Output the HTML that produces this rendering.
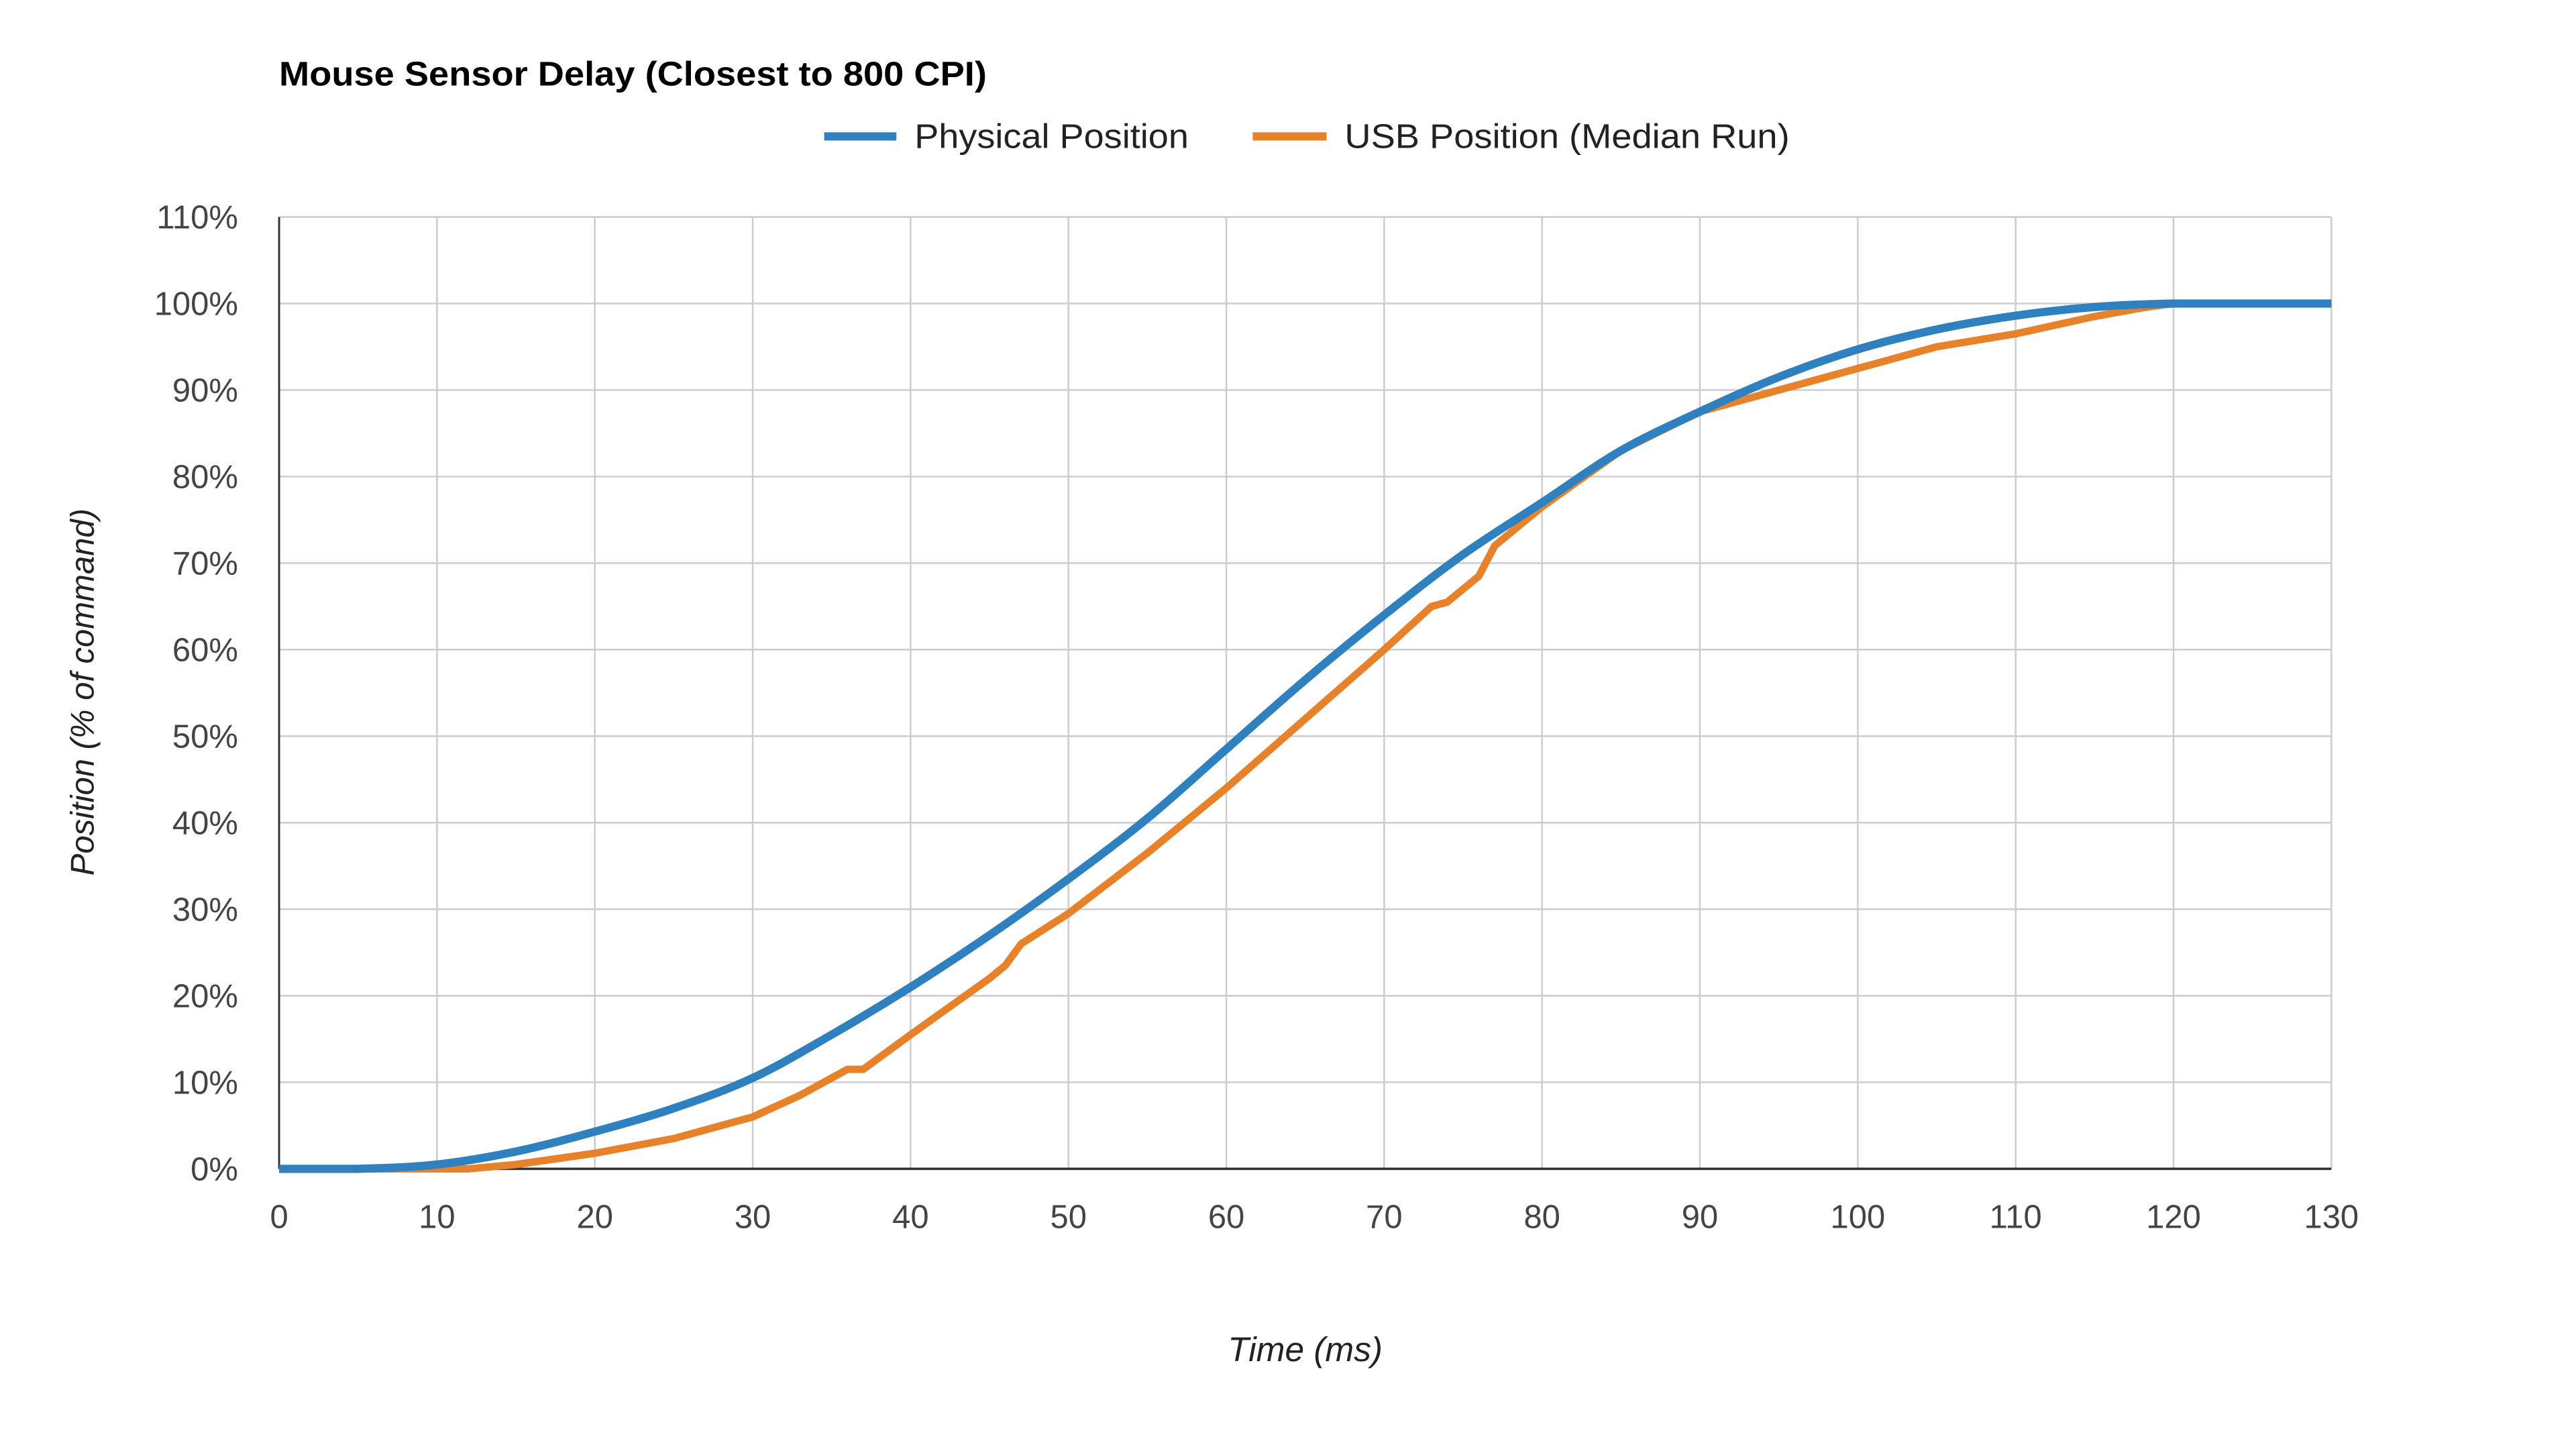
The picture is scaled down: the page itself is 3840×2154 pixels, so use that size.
<!DOCTYPE html>
<html><head><meta charset="utf-8"><style>
html,body{margin:0;padding:0;background:#fff;}
svg{display:block;font-family:"Liberation Sans",Arial,sans-serif;}
</style></head><body>
<svg id="chart" width="3840" height="2154" viewBox="0 0 1569 879" preserveAspectRatio="none" xmlns="http://www.w3.org/2000/svg">
<rect width="1569" height="879" fill="#fff"/>
<text x="170" y="52" font-size="21" font-weight="bold" fill="#000" textLength="431" lengthAdjust="spacingAndGlyphs">Mouse Sensor Delay (Closest to 800 CPI)</text>
<g>
<g><line x1="502" y1="83" x2="546" y2="83" stroke="#2f80be" stroke-width="5"/><text x="557" y="90" font-size="21" fill="#222" textLength="167" lengthAdjust="spacingAndGlyphs">Physical Position</text></g>
<g><line x1="763" y1="83" x2="808" y2="83" stroke="#e8822a" stroke-width="5"/><text x="819" y="90" font-size="21" fill="#222" textLength="271" lengthAdjust="spacingAndGlyphs">USB Position (Median Run)</text></g>
</g>
<g id="grid"></g>
<g id="yt"></g>
<g id="xt"></g>
<g id="series"></g>
<text transform="translate(57,421) rotate(-90)" text-anchor="middle" font-size="20" font-style="italic" fill="#222">Position (% of command)</text>
<text x="795" y="828" text-anchor="middle" font-size="21" font-style="italic" fill="#222">Time (ms)</text>
</svg>
<script>
const xTicks=[0,10,20,30,40,50,60,70,80,90,100,110,120,130];
const yTicks=[0,10,20,30,40,50,60,70,80,90,100,110];
const physT=[0,5,10,15,20,25,30,35,40,45,50,55,60,65,70,75,80,85,90,95,100,105,110,115,120,125,130];
const physV=[0,0,0.5,2,4.3,7,10.5,15.5,21,27,33.5,40.5,48.5,56.5,64,71,77,83,87.5,91.5,94.7,97,98.6,99.6,100,100,100];
const usbT=[0,12,15,20,25,30,33,35,36,37,40,45,46,47,50,55,60,65,70,73,74,76,77,80,85,90,95,100,105,110,115,118,120,130];
const usbV=[0,0,0.5,1.8,3.5,6,8.5,10.5,11.5,11.5,15.5,22,23.5,26,29.5,36.5,44,52,60,65,65.5,68.5,72,76.5,83,87.5,90,92.5,95,96.5,98.5,99.5,100,100];
const NS="http://www.w3.org/2000/svg";
const X0=170,X1=1420,Y0=711,Y1=132;
const xs=t=>X0+(t-0)/(130-0)*(X1-X0);
const ys=v=>Y0-(v-0)/(110-0)*(Y0-Y1);
function mk(tag,attrs,parent){const e=document.createElementNS(NS,tag);for(const k in attrs)e.setAttribute(k,attrs[k]);parent.appendChild(e);return e;}
const grid=document.getElementById('grid'),yt=document.getElementById('yt'),xt=document.getElementById('xt'),ser=document.getElementById('series');
yTicks.forEach(v=>{
  const l=mk('line',{x1:X0,x2:X1,y1:ys(v),y2:ys(v),stroke:'#ccc','stroke-width':1},grid);
  
  
  const t=mk('text',{x:145,y:ys(v)+7,'text-anchor':'end','font-size':20,fill:'#444'},yt);
  t.textContent=v+'%';
  
  
});
xTicks.forEach(v=>{
  const l=mk('line',{x1:xs(v),x2:xs(v),y1:Y1,y2:Y0,stroke:'#ccc','stroke-width':1},grid);
  
  
  const t=mk('text',{x:xs(v),y:747,'text-anchor':'middle','font-size':20,fill:'#444'},xt);
  t.textContent=v;
  
  
});
const ax=mk('line',{x1:X0,x2:X0,y1:Y1,y2:Y0,stroke:'#333','stroke-width':1.2},grid);


const bx=mk('line',{x1:X0,x2:X1,y1:Y0,y2:Y0,stroke:'#333','stroke-width':1.5},grid);


function path(T,V,smooth){
  const P=T.map((t,i)=>[xs(t),ys(V[i])]);
  let d='M'+P[0][0].toFixed(2)+','+P[0][1].toFixed(2);
  for(let i=0;i<P.length-1;i++){
    if(!smooth){d+='L'+P[i+1][0].toFixed(2)+','+P[i+1][1].toFixed(2);continue;}
    const p0=P[i-1]||P[i],p1=P[i],p2=P[i+1],p3=P[i+2]||P[i+1];
    let c1y=p1[1]+(p2[1]-p0[1])/6,c2y=p2[1]-(p3[1]-p1[1])/6;
    const lo=Math.min(p1[1],p2[1]),hi=Math.max(p1[1],p2[1]);
    c1y=Math.min(hi,Math.max(lo,c1y));c2y=Math.min(hi,Math.max(lo,c2y));
    d+='C'+(p1[0]+(p2[0]-p0[0])/6).toFixed(2)+','+c1y.toFixed(2)+' '+(p2[0]-(p3[0]-p1[0])/6).toFixed(2)+','+c2y.toFixed(2)+' '+p2[0].toFixed(2)+','+p2[1].toFixed(2);
  }
  return d;
}
const pu=mk('path',{d:path(usbT,usbV,false),fill:'none',stroke:'#e8822a','stroke-width':4.5,'stroke-linejoin':'round'},ser);


const pp=mk('path',{d:path(physT,physV,true),fill:'none',stroke:'#2f80be','stroke-width':5,'stroke-linejoin':'round'},ser);


</script>
</body></html>
